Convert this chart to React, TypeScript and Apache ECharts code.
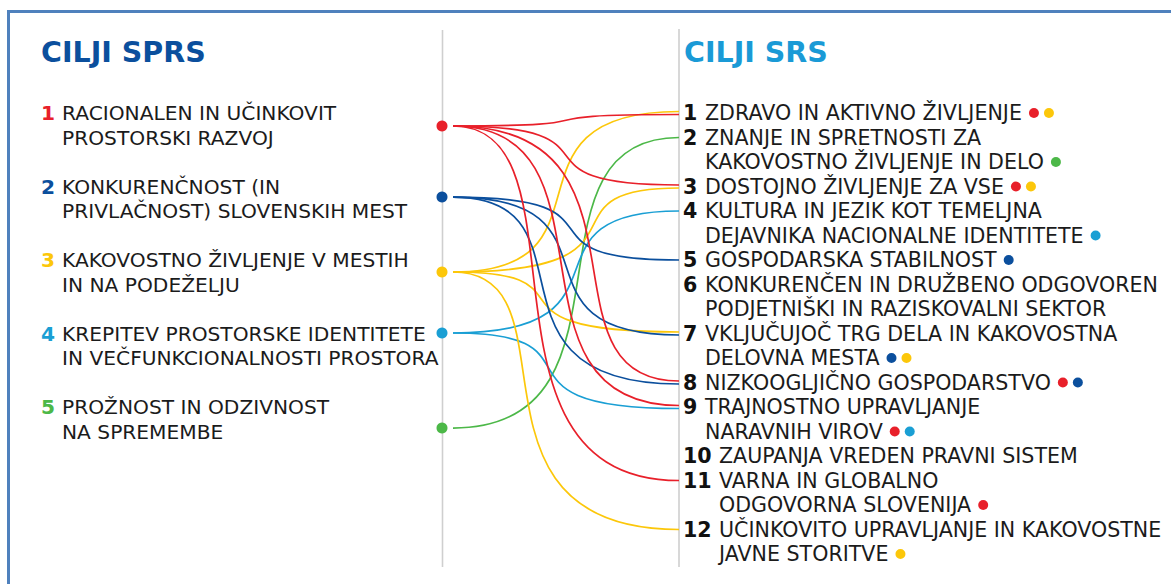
import React, { useEffect, useRef } from "react";
import * as echarts from "echarts";

const leftTitle = "CILJI SPRS";
const rightTitle = "CILJI SRS";

const leftGoals: string[][] = [
  ["RACIONALEN IN UČINKOVIT", "PROSTORSKI RAZVOJ"],
  ["KONKURENČNOST (IN", "PRIVLAČNOST) SLOVENSKIH MEST"],
  ["KAKOVOSTNO ŽIVLJENJE V MESTIH", "IN NA PODEŽELJU"],
  ["KREPITEV PROSTORSKE IDENTITETE", "IN VEČFUNKCIONALNOSTI PROSTORA"],
  ["PROŽNOST IN ODZIVNOST", "NA SPREMEMBE"],
];
const leftColors = ["#e8202a", "#0b4f9d", "#fcc70a", "#1a9fd4", "#4cb848"];
// row (in text-line units) where each left node dot sits
const leftNodeRows = [0.53, 3.43, 6.49, 8.98, 12.86];

const rightGoals: string[][] = [
  ["ZDRAVO IN AKTIVNO ŽIVLJENJE"],
  ["ZNANJE IN SPRETNOSTI ZA", "KAKOVOSTNO ŽIVLJENJE IN DELO"],
  ["DOSTOJNO ŽIVLJENJE ZA VSE"],
  ["KULTURA IN JEZIK KOT TEMELJNA", "DEJAVNIKA NACIONALNE IDENTITETE"],
  ["GOSPODARSKA STABILNOST"],
  ["KONKURENČEN IN DRUŽBENO ODGOVOREN", "PODJETNIŠKI IN RAZISKOVALNI SEKTOR"],
  ["VKLJUČUJOČ TRG DELA IN KAKOVOSTNA", "DELOVNA MESTA"],
  ["NIZKOOGLJIČNO GOSPODARSTVO"],
  ["TRAJNOSTNO UPRAVLJANJE", "NARAVNIH VIROV"],
  ["ZAUPANJA VREDEN PRAVNI SISTEM"],
  ["VARNA IN GLOBALNO", "ODGOVORNA SLOVENIJA"],
  ["UČINKOVITO UPRAVLJANJE IN KAKOVOSTNE", "JAVNE STORITVE"],
];

// [left goal index, right goal index]
const links: [number, number][] = [
  [2, 0], [0, 0],
  [4, 1],
  [0, 2], [2, 2],
  [3, 3],
  [1, 4],
  [2, 6], [1, 6],
  [0, 7], [1, 7],
  [0, 8], [3, 8],
  [0, 10],
  [2, 11],
];

// curve style: where (as a share of the gap) each link's steep middle part sits
const LINK_BEND: Record<string, number> = {
  "0-0": 0.5, "0-2": 0.5, "0-7": 0.61, "0-8": 0.48, "0-10": 0.37,
  "1-4": 0.52, "1-6": 0.5, "1-7": 0.4,
  "2-0": 0.47, "2-2": 0.61, "2-6": 0.4, "2-11": 0.33,
  "3-3": 0.54, "3-8": 0.43,
  "4-1": 0.55,
};

const W = 1171;
const H = 584;
const X_LEFT = 442;
const X_RIGHT = 679;
const ROW0_Y = 113;
const ROW_H = 24.5;
const FONT = "'DejaVu Sans', Verdana, sans-serif";
const FS_LEFT = 20.2;
const FS_RIGHT = 20.6;
const TEXT_COLOR = "#1b1b1b";

export default function App() {
  const ref = useRef<HTMLDivElement>(null);

  useEffect(() => {
    if (!ref.current) return;
    const chart = echarts.init(ref.current, undefined, { renderer: "svg" });

    const rightStartRows: number[] = [];
    let acc = 0;
    rightGoals.forEach((g) => {
      rightStartRows.push(acc);
      acc += g.length;
    });
    const maxRow = acc - 1;

    const perTarget: Record<number, number[]> = {};
    links.forEach(([s, t], i) => {
      (perTarget[t] = perTarget[t] || []).push(i);
    });
    const linkData = links.map(([s, t], i) => {
      const list = perTarget[t];
      const k = list.indexOf(i);
      const off = (k - (list.length - 1) / 2) * 3;
      const bend = LINK_BEND[s + "-" + t] ?? 0.5;
      return [0, leftNodeRows[s], 1, rightStartRows[t], s, off, bend];
    });

    const dotRich: any = {
      g: { width: 7, height: 10 },
      s: { width: 5, height: 10 },
    };
    leftColors.forEach((c, i) => {
      dotRich["d" + i] = { width: 10, height: 10, borderRadius: 5, backgroundColor: c };
    });

    const option: any = {
      animation: false,
      backgroundColor: "#ffffff",
      grid: {
        left: X_LEFT,
        right: W - X_RIGHT,
        top: ROW0_Y,
        height: maxRow * ROW_H,
      },
      xAxis: { type: "value", min: 0, max: 1, show: false },
      yAxis: { type: "value", min: 0, max: maxRow, inverse: true, show: false },
      graphic: [
        {
          type: "polyline",
          shape: { points: [[8.5, H + 10], [8.5, 11.5], [W + 10, 11.5]] },
          style: { stroke: "#4f81bd", lineWidth: 3, fill: null },
          silent: true,
        },
        {
          type: "line",
          shape: { x1: X_LEFT + 0.5, y1: 30, x2: X_LEFT + 0.5, y2: 567 },
          style: { stroke: "#cfcfcf", lineWidth: 1.6 },
          silent: true,
        },
        {
          type: "line",
          shape: { x1: X_RIGHT, y1: 29, x2: X_RIGHT, y2: 567 },
          style: { stroke: "#cfcfcf", lineWidth: 1.6 },
          silent: true,
        },
        {
          type: "text",
          x: 41,
          y: 52,
          style: {
            text: leftTitle,
            fill: "#0b4f9d",
            fontFamily: FONT,
            fontWeight: "bold",
            fontSize: 28.5,
            verticalAlign: "middle",
          },
        },
        {
          type: "text",
          x: 684,
          y: 52,
          style: {
            text: rightTitle,
            fill: "#1a9ad6",
            fontFamily: FONT,
            fontWeight: "bold",
            fontSize: 28.5,
            verticalAlign: "middle",
          },
        },
      ],
      series: [
        {
          type: "custom",
          name: "links",
          coordinateSystem: "cartesian2d",
          clip: false,
          silent: true,
          z: 2,
          data: linkData,
          renderItem: (params: any, api: any) => {
            const p0 = api.coord([api.value(0), api.value(1)]);
            const p3 = api.coord([api.value(2), api.value(3)]);
            const s = api.value(4);
            const off = api.value(5);
            const bend = api.value(6);
            const x0 = p0[0] + 11;
            const y0 = p0[1];
            const x3 = p3[0];
            const y3 = p3[1] + off;
            const dx = x3 - x0;
            const sum = 1.6;
            const diff = (bend - 0.5) / 0.375;
            const a = ((sum + diff) / 2) * dx;
            const b = ((sum - diff) / 2) * dx;
            return {
              type: "bezierCurve",
              shape: {
                x1: x0,
                y1: y0,
                cpx1: x0 + a,
                cpy1: y0,
                cpx2: x3 - b,
                cpy2: y3,
                x2: x3,
                y2: y3,
              },
              style: { stroke: leftColors[s], lineWidth: 1.7, fill: null },
            };
          },
        },
        {
          type: "scatter",
          name: "nodes",
          silent: true,
          z: 3,
          symbol: "circle",
          symbolSize: 11,
          itemStyle: { opacity: 1 },
          data: leftNodeRows.map((r, i) => ({
            value: [0, r],
            itemStyle: { color: leftColors[i], opacity: 1 },
          })),
        },
        {
          type: "custom",
          name: "leftLabels",
          coordinateSystem: "cartesian2d",
          clip: false,
          silent: true,
          data: leftGoals.map((g, i) => [0, i * 3, i]),
          renderItem: (params: any, api: any) => {
            const i = api.value(2);
            const children: any[] = [];
            const p = api.coord([0, api.value(1)]);
            children.push({
              type: "text",
              x: 41,
              y: p[1],
              style: {
                text: String(i + 1),
                fill: leftColors[i],
                fontFamily: FONT,
                fontWeight: "bold",
                fontSize: FS_LEFT,
                verticalAlign: "middle",
              },
            });
            leftGoals[i].forEach((line, k) => {
              const pk = api.coord([0, api.value(1) + k]);
              children.push({
                type: "text",
                x: 62,
                y: pk[1],
                style: {
                  text: line,
                  fill: TEXT_COLOR,
                  fontFamily: FONT,
                  fontSize: FS_LEFT,
                  verticalAlign: "middle",
                },
              });
            });
            return { type: "group", children };
          },
        },
        {
          type: "custom",
          name: "rightLabels",
          coordinateSystem: "cartesian2d",
          clip: false,
          silent: true,
          data: rightGoals.map((g, i) => [1, rightStartRows[i], i]),
          renderItem: (params: any, api: any) => {
            const i = api.value(2);
            const row = api.value(1);
            const children: any[] = [];
            const p = api.coord([1, row]);
            const num = String(i + 1);
            children.push({
              type: "text",
              x: p[0] + 4,
              y: p[1],
              style: {
                text: num,
                fill: "#111111",
                fontFamily: FONT,
                fontWeight: "bold",
                fontSize: FS_RIGHT,
                verticalAlign: "middle",
              },
            });
            const textX = p[0] + (num.length > 1 ? 40 : 26);
            const dots = links
              .filter(([s, t]) => t === i)
              .map(([s]) => s)
              .sort((a, b) => a - b);
            const lines = rightGoals[i];
            lines.forEach((line, k) => {
              const pk = api.coord([1, row + k]);
              let txt = line;
              if (k === lines.length - 1 && dots.length) {
                txt = line + "{g|}" + dots.map((d) => `{d${d}|}`).join("{s|}");
              }
              children.push({
                type: "text",
                x: textX,
                y: pk[1],
                style: {
                  text: txt,
                  fill: TEXT_COLOR,
                  fontFamily: FONT,
                  fontSize: FS_RIGHT,
                  verticalAlign: "middle",
                  rich: dotRich,
                },
              });
            });
            return { type: "group", children };
          },
        },
      ],
    };

    chart.setOption(option);
    return () => chart.dispose();
  }, []);

  return (
    <div
      ref={ref}
      style={{ position: "fixed", left: 0, top: 0, width: W, height: H }}
    />
  );
}
